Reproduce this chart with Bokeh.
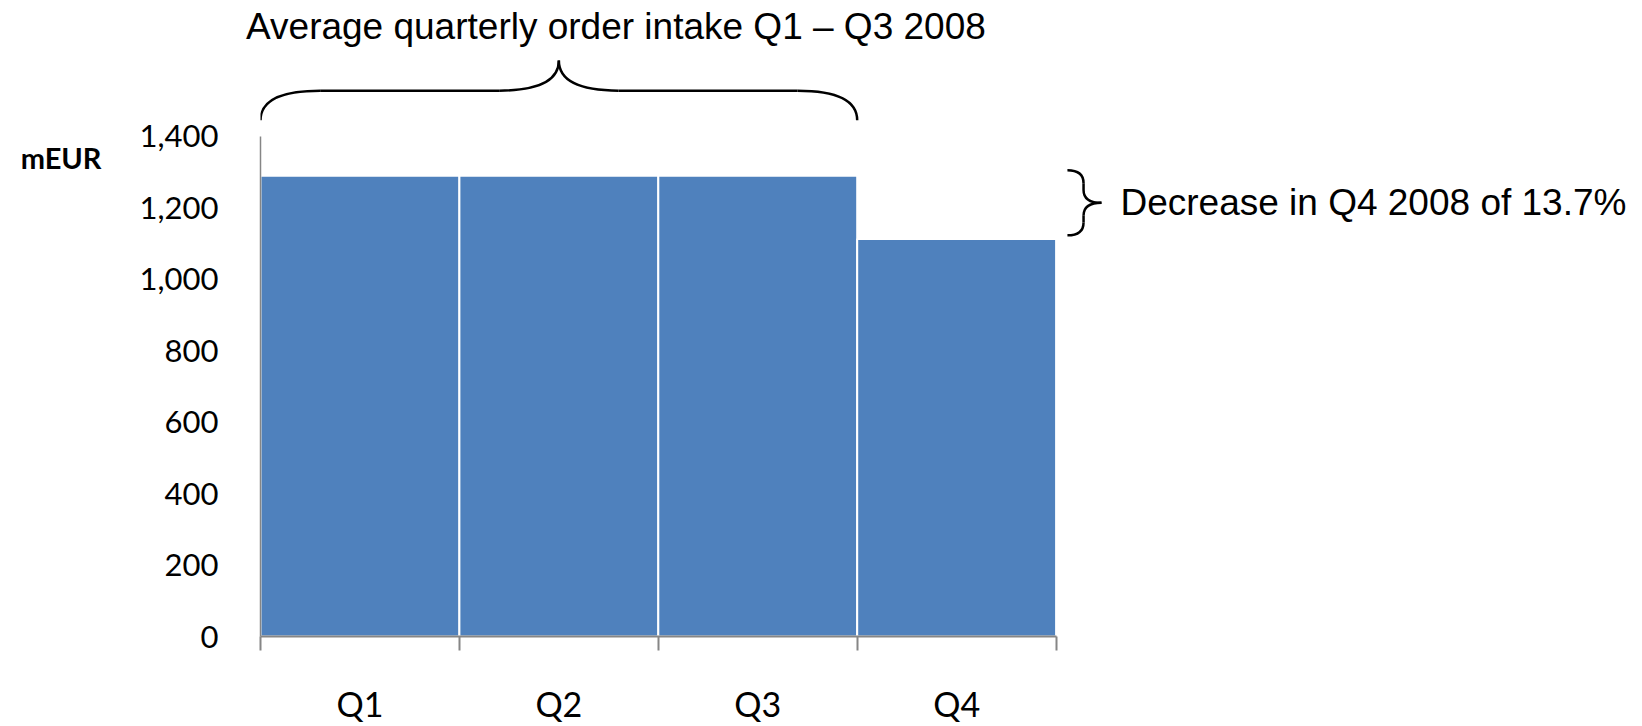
from bokeh.plotting import figure
from bokeh.models import Range1d, FixedTicker, NumeralTickFormatter, Label, LinearAxis
from bokeh.embed import file_html
from bokeh.resources import INLINE

# ---- data ----
quarters = ["Q1", "Q2", "Q3", "Q4"]
order_intake = [1290, 1290, 1290, 1113]
y_ticks = [0, 200, 400, 600, 800, 1000, 1200, 1400]
title_text = "Average quarterly order intake Q1 \u2013 Q3 2008"
note_text = "Decrease in Q4 2008 of 13.7%"
unit_text = "mEUR"

# ---- layout constants ----
W, H = 1642, 726
LEFT, BOTTOM, TOP = 260, 89, 50
X_PX = 198.9            # pixels per category
Y_PX = 501.0 / 1400.0   # pixels per mEUR
x_end = (W - LEFT) / X_PX
y_end = (H - BOTTOM - TOP) / Y_PX

BAR_COLOR = "#4F81BD"
AXIS_COLOR = "#868686"

p = figure(width=W, height=H, output_backend="svg", toolbar_location=None,
           x_range=Range1d(0, x_end), y_range=Range1d(0, y_end),
           min_border_left=LEFT, min_border_right=0, min_border_top=TOP,
           min_border_bottom=BOTTOM)
p.xgrid.visible = False
p.ygrid.visible = False
p.outline_line_color = None
p.background_fill_color = "white"
p.border_fill_color = "white"

n = len(quarters)
centers = [i + 0.5 for i in range(n)]

# bars
p.vbar(x=centers, top=order_intake, width=1.0, bottom=0,
       fill_color=BAR_COLOR, line_color="white", line_width=2)

# x axis
xa = p.xaxis[0]
xa.ticker = FixedTicker(ticks=centers, minor_ticks=list(range(n + 1)))
xa.major_label_overrides = {c: q for c, q in zip(centers, quarters)}
xa.bounds = (0, n)
xa.axis_line_color = AXIS_COLOR
xa.axis_line_width = 2
xa.major_tick_out = 0
xa.major_tick_in = 0
xa.minor_tick_out = 14
xa.minor_tick_in = 0
xa.minor_tick_line_color = AXIS_COLOR
xa.minor_tick_line_width = 2
xa.major_label_standoff = 32
xa.major_label_text_font = "Lato"
xa.major_label_text_font_size = "34px"
xa.major_label_text_color = "black"

# y axis
ya = p.yaxis[0]
ya.ticker = FixedTicker(ticks=y_ticks, minor_ticks=[])
ya.formatter = NumeralTickFormatter(format="0,0")
ya.bounds = (0, y_ticks[-1])
ya.axis_line_color = AXIS_COLOR
ya.axis_line_width = 1.5
ya.major_tick_out = 0
ya.major_tick_in = 0
ya.minor_tick_out = 0
ya.minor_tick_in = 0
ya.major_label_standoff = 42
ya.major_label_text_font = "Lato"
ya.major_label_text_font_size = "31px"
ya.major_label_text_color = "black"

# ---- unit label: a single tick label on a bare extra left axis ----
unit_y = y_ticks[-1] - 21 / Y_PX
unit_axis = LinearAxis(ticker=FixedTicker(ticks=[unit_y], minor_ticks=[]),
                       major_label_overrides={unit_y: unit_text},
                       axis_line_color=None, major_tick_out=0, major_tick_in=0,
                       minor_tick_out=0, minor_tick_in=0,
                       major_label_standoff=35,
                       major_label_text_font="Lato",
                       major_label_text_font_style="bold",
                       major_label_text_font_size="29px",
                       major_label_text_color="black")
p.add_layout(unit_axis, "left")

# ---- title text: a single tick label on a bare extra top axis ----
title_x = 1.787
title_axis = LinearAxis(ticker=FixedTicker(ticks=[title_x], minor_ticks=[]),
                        major_label_overrides={title_x: title_text},
                        axis_line_color=None, major_tick_out=0, major_tick_in=0,
                        minor_tick_out=0, minor_tick_in=0,
                        major_label_standoff=4,
                        major_label_text_font="Liberation Sans",
                        major_label_text_font_size="37px",
                        major_label_text_color="black")
p.add_layout(title_axis, "above")

# ---- top brace over Q1..Q3 ----
avg = sum(order_intake[:3]) / 3.0
bx0, bx1 = 0.0, 3.0
bxm = (bx0 + bx1) / 2
dx = 0.3
top = y_ticks[-1]
ye, yh, yt = top + 45, top + 128, top + 212
p.quadratic(x0=[bx0, bxm - dx, bxm + dx, bx1],
            y0=[ye, yh, yh, ye],
            x1=[bx0 + dx, bxm, bxm, bx1 - dx],
            y1=[yh, yt, yt, yh],
            cx=[bx0, bxm, bxm, bx1],
            cy=[yh, yh, yh, yh],
            line_color="black", line_width=2.5)
p.segment(x0=[bx0 + dx, bxm + dx], y0=[yh, yh],
          x1=[bxm - dx, bx1 - dx], y1=[yh, yh],
          line_color="black", line_width=2.5)

# ---- right brace between average and Q4 ----
rx0, rxv, rx1 = n + 0.057, n + 0.138, n + 0.228
ryt = avg + 15
ryb = order_intake[-1] + 10
rym = (ryt + ryb) / 2
dy = 36
p.quadratic(x0=[rx0, rxv, rx0, rxv],
            y0=[ryt, rym + dy, ryb, rym - dy],
            x1=[rxv, rx1, rxv, rx1],
            y1=[ryt - dy, rym, ryb + dy, rym],
            cx=[rxv, rxv, rxv, rxv],
            cy=[ryt, rym, ryb, rym],
            line_color="black", line_width=2.5)
p.segment(x0=[rxv, rxv], y0=[ryt - dy, ryb + dy],
          x1=[rxv, rxv], y1=[rym + dy, rym - dy],
          line_color="black", line_width=2.5)

p.add_layout(Label(x=rx1, y=rym, x_offset=19,
                   text=note_text, text_font="Liberation Sans",
                   text_font_size="37px", text_color="black",
                   text_align="left", text_baseline="middle"))

open("out.html", "w").write(file_html(p, INLINE))
